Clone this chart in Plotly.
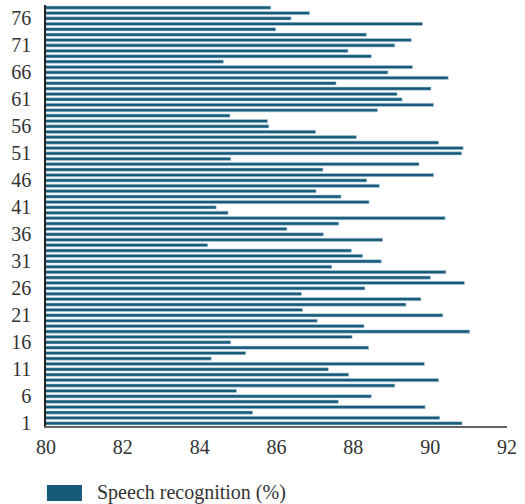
import plotly.graph_objects as go

# Speech recognition accuracy (%) per sample, samples 1..78
samples = list(range(1, 79))
recognition = [
    90.83, 90.25, 85.38, 89.87, 87.61, 88.47, 84.96, 89.08, 90.22, 87.88,
    87.35, 89.85, 84.30, 85.20, 88.40, 84.81, 87.97, 91.03, 88.28, 87.06,
    90.33, 86.68, 89.37, 89.76, 86.65, 88.30, 90.89, 90.01, 90.41, 87.44,
    88.73, 88.24, 87.95, 84.21, 88.76, 87.22, 86.27, 87.62, 90.39, 84.74,
    84.43, 88.41, 87.68, 87.03, 88.68, 88.35, 90.09, 87.21, 89.71, 84.81,
    90.82, 90.86, 90.22, 88.08, 87.02, 85.80, 85.77, 84.79, 88.63, 90.09,
    89.27, 89.14, 90.02, 87.55, 90.47, 88.90, 89.54, 84.62, 88.47, 87.86,
    89.08, 89.51, 88.34, 85.98, 89.80, 86.38, 86.86, 85.85,
]
y_ticks = list(range(1, 79, 5))
x_ticks = list(range(80, 93, 2))
series_name = "Speech recognition (%)"

bar_color = "#175b7b"
font_family = "Liberation Serif, DejaVu Serif, serif"

fig = go.Figure()
fig.add_trace(go.Bar(
    x=recognition,
    y=samples,
    orientation="h",
    name=series_name,
    marker=dict(color=bar_color, line=dict(color="#b7d0de", width=0.6)),
    showlegend=False,
))

fig.update_layout(
    width=525,
    height=504,
    margin=dict(l=46, r=18, t=5, b=78),
    paper_bgcolor="white",
    plot_bgcolor="white",
    bargap=0.4,
    font=dict(family=font_family, size=20, color="#333333"),
    xaxis=dict(
        range=[80, 92],
        tickvals=x_ticks,
        showgrid=False,
        zeroline=False,
        showline=True,
        linecolor="#666666",
        linewidth=2,
        ticks="",
        ticklabelstandoff=2,
    ),
    yaxis=dict(
        range=[0.5, 78.5],
        tickvals=y_ticks,
        showgrid=False,
        zeroline=False,
        showline=True,
        linecolor="#222222",
        linewidth=1.5,
        ticks="",
        ticklabelstandoff=9,
    ),
    shapes=[dict(
        type="rect", xref="paper", yref="paper",
        x0=0.002, x1=0.078, y0=-0.178, y1=-0.140,
        fillcolor=bar_color, line=dict(width=0),
    )],
    annotations=[dict(
        text=series_name, xref="paper", yref="paper",
        x=0.106, y=-0.159, xanchor="left", yanchor="middle",
        showarrow=False, font=dict(family=font_family, size=20, color="#333333"),
    )],
)

fig.write_html("out.html")
